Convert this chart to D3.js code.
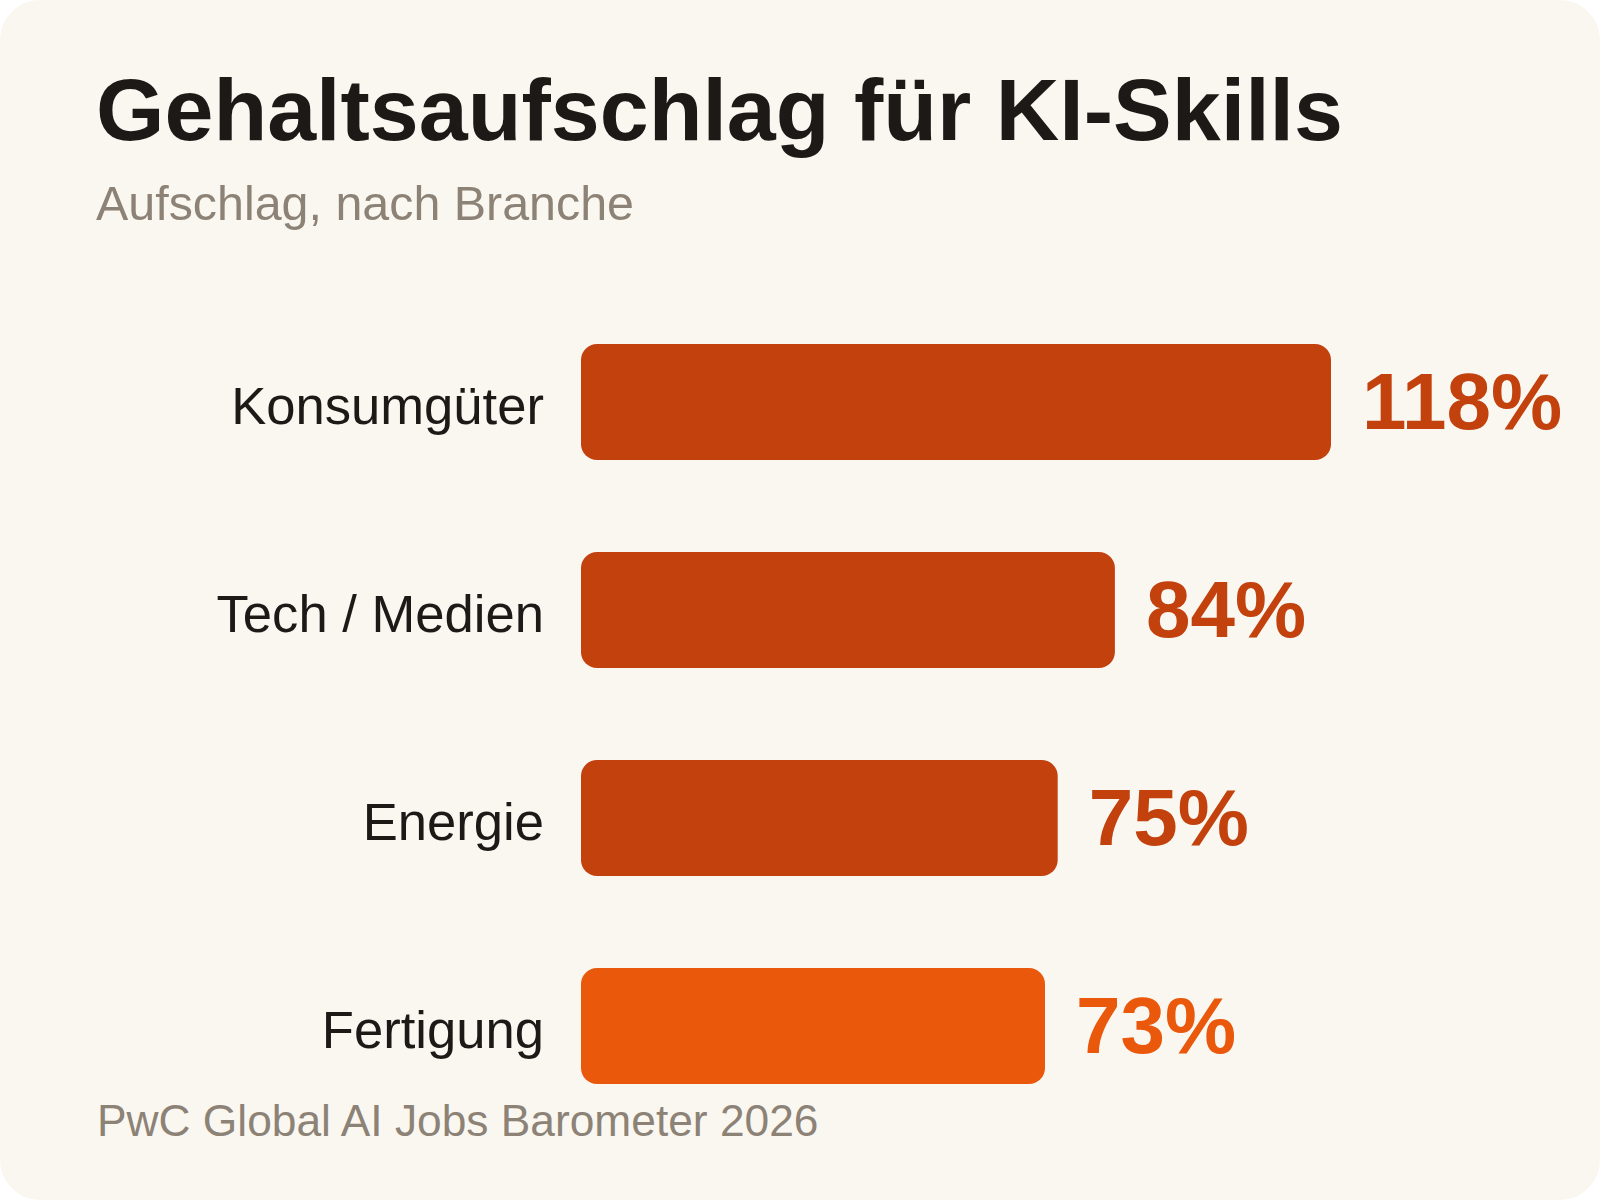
<!DOCTYPE html>
<html>
<head>
<meta charset="utf-8">
<script src="https://cdn.jsdelivr.net/npm/d3@7"></script>
<style>
  html, body { margin: 0; padding: 0; background: #ffffff; }
  svg { display: block; font-family: "Liberation Sans", Arial, Helvetica, sans-serif; }
</style>
</head>
<body>
<script>
const branchen = ['Konsumgüter', 'Tech / Medien', 'Energie', 'Fertigung'];
const aufschlag = [118, 84, 75, 73];
const farben = ['#C2410C', '#C2410C', '#C2410C', '#EA580C'];

const width = 1600, height = 1200;

const svg = d3.select('body').append('svg')
    .attr('width', width)
    .attr('height', height);

// Karte
svg.append('rect')
    .attr('x', 0).attr('y', 0)
    .attr('width', width).attr('height', height)
    .attr('rx', 40)
    .attr('fill', '#FAF7F1');

svg.append('text')
    .attr('x', 96).attr('y', 140)
    .attr('font-size', 88)
    .attr('font-weight', 700)
    .attr('fill', '#1C1917')
    .text('Gehaltsaufschlag für KI-Skills');

svg.append('text')
    .attr('x', 96).attr('y', 220)
    .attr('font-size', 48.4)
    .attr('fill', '#8C8276')
    .text('Aufschlag, nach Branche');

svg.append('text')
    .attr('x', 97).attr('y', 1136)
    .attr('font-size', 44.3)
    .attr('fill', '#8C8276')
    .text('PwC Global AI Jobs Barometer 2026');

const x = d3.scaleLinear()
    .domain([0, d3.max(aufschlag)])
    .range([581, 1331]);

const y = d3.scaleBand()
    .domain(branchen)
    .range([344, 1084])
    .paddingInner(0.4423)
    .paddingOuter(0);

const data = branchen.map((b, i) => ({ name: b, value: aufschlag[i], color: farben[i] }));

const rows = svg.selectAll('g.row')
    .data(data)
    .join('g')
    .attr('class', 'row');

rows.append('rect')
    .attr('x', x(0))
    .attr('y', d => y(d.name))
    .attr('width', d => x(d.value) - x(0))
    .attr('height', y.bandwidth())
    .attr('rx', 16)
    .attr('fill', d => d.color);

rows.append('text')
    .attr('x', 544)
    .attr('y', d => y(d.name) + y.bandwidth() / 2 + 22)
    .attr('text-anchor', 'end')
    .attr('font-size', 52.6)
    .attr('fill', '#1C1917')
    .text(d => d.name);

rows.append('text')
    .attr('x', d => x(d.value) + 31)
    .attr('y', d => y(d.name) + y.bandwidth() / 2 + 27)
    .attr('font-size', 80)
    .attr('font-weight', 700)
    .attr('fill', d => d.color)
    .text(d => d.value + '%');
</script>
</body>
</html>
